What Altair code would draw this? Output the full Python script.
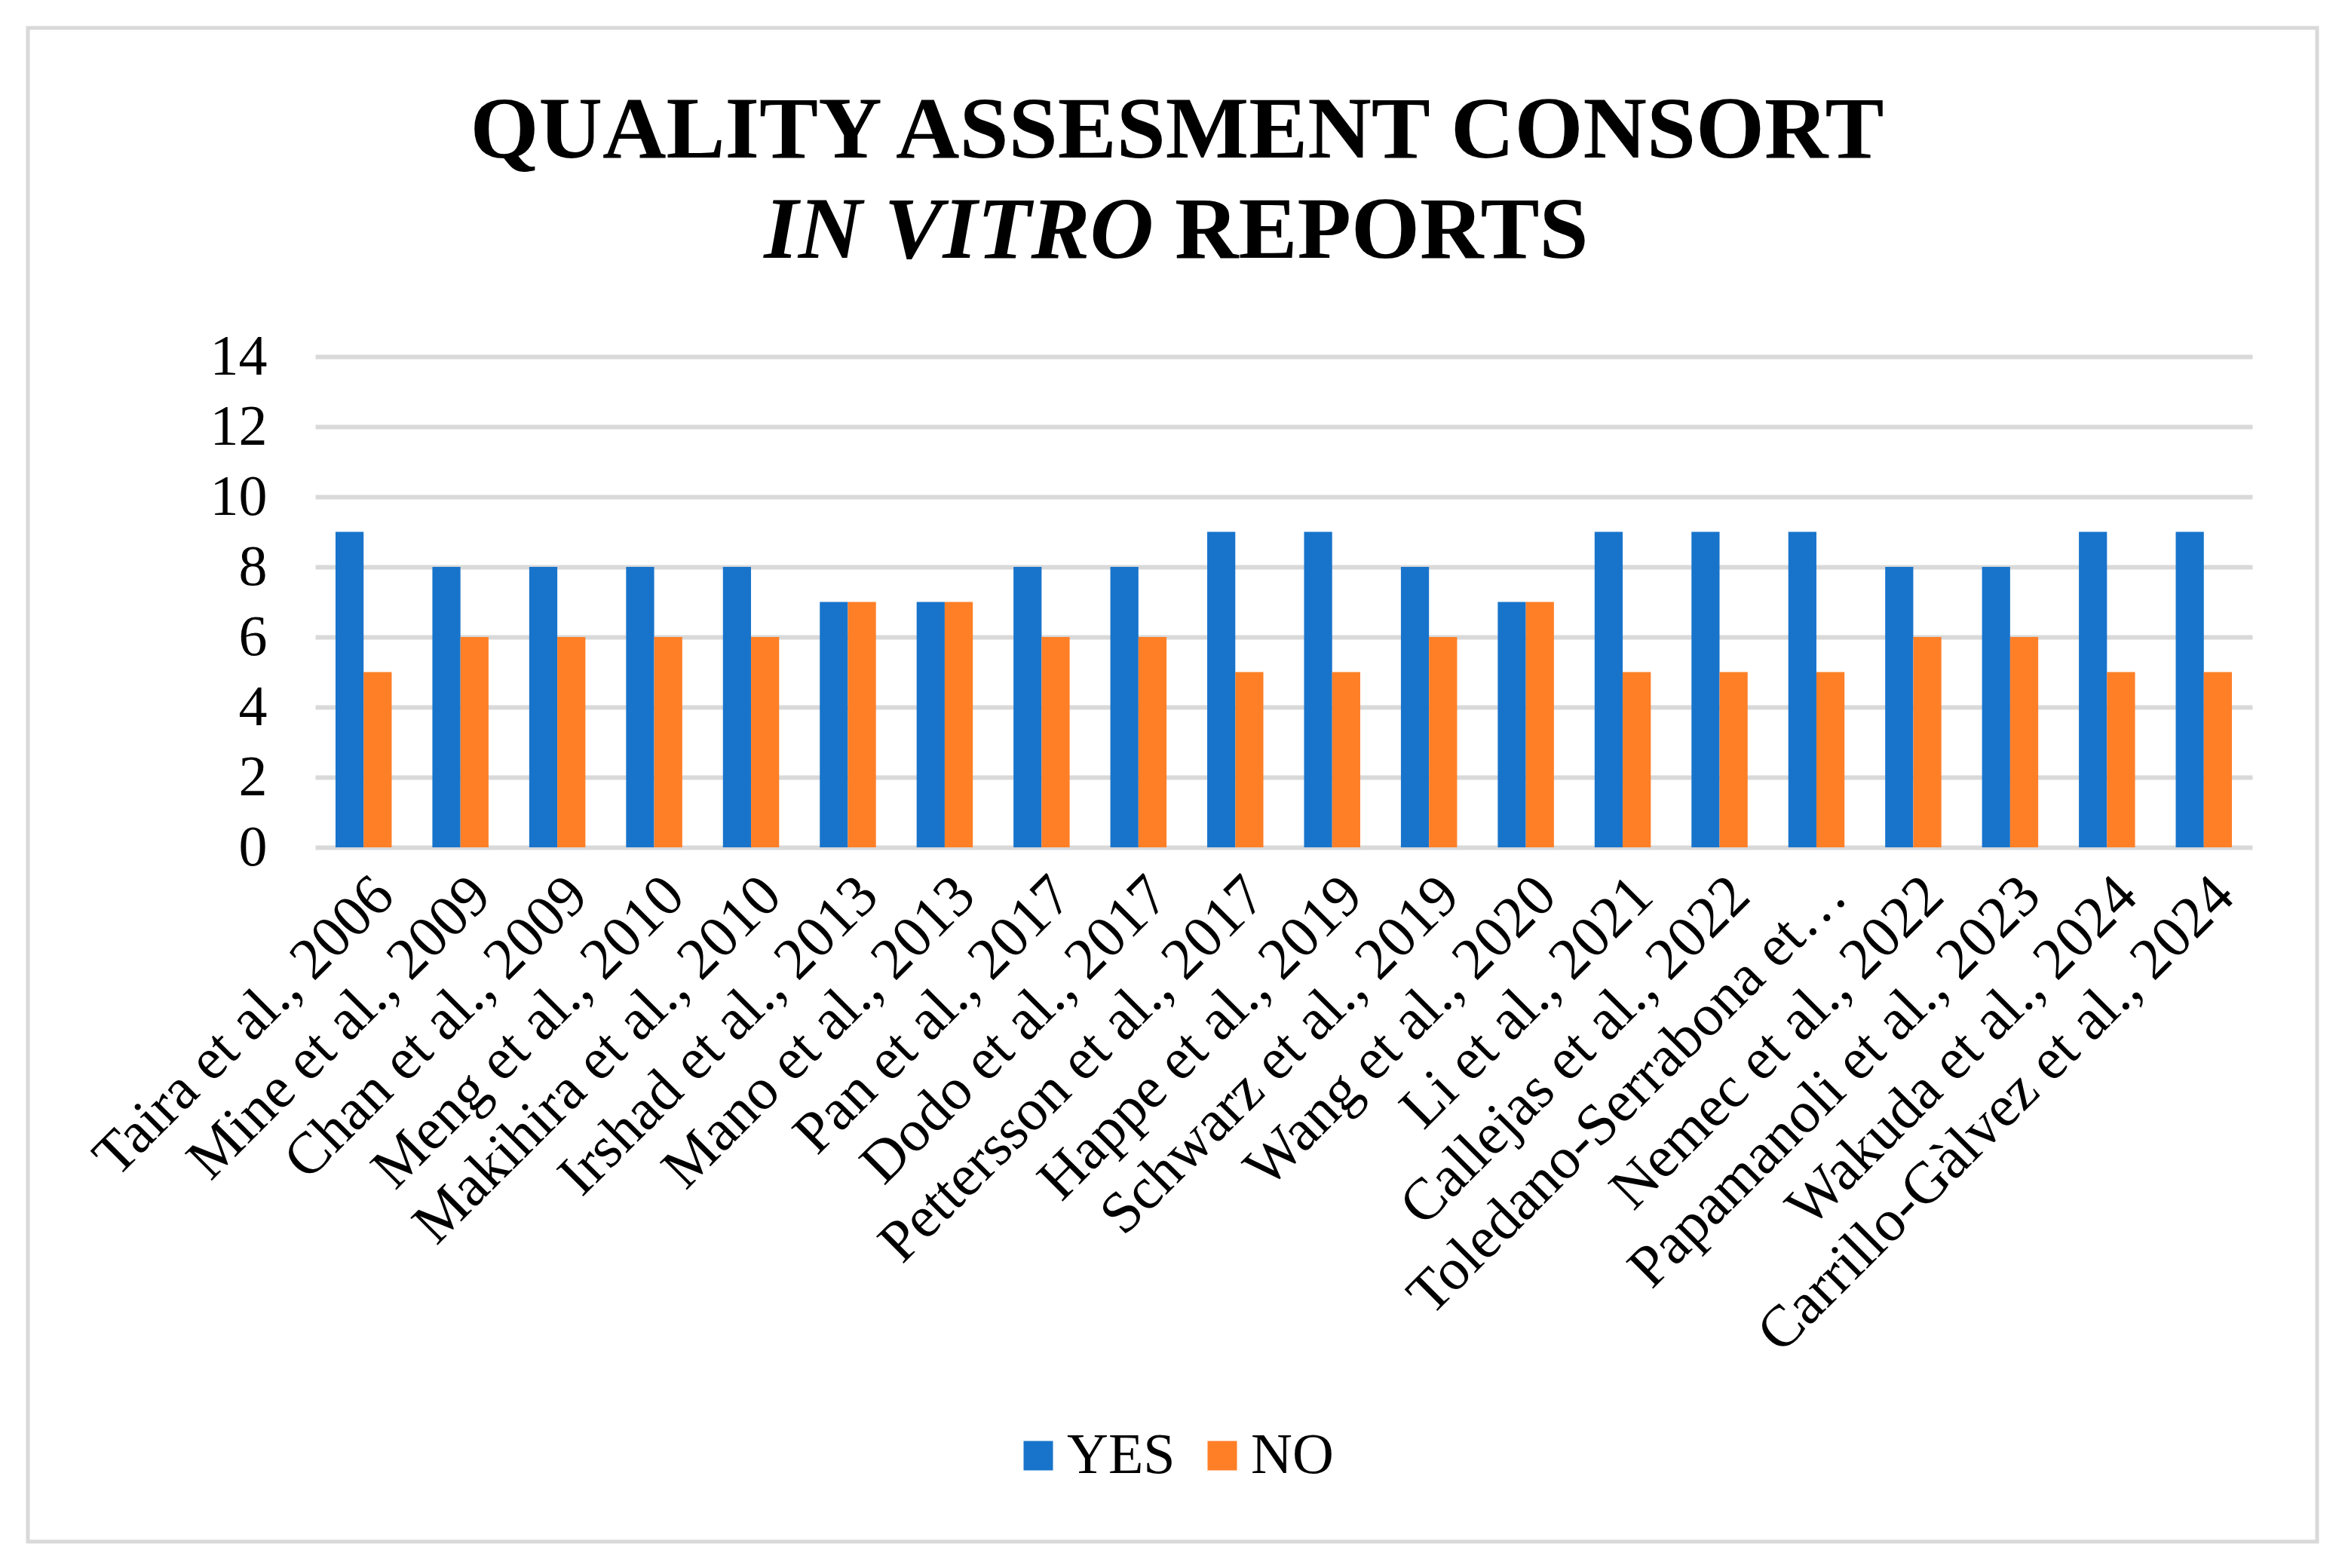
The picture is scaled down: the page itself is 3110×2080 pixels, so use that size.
import altair as alt
import pandas as pd

studies = [
    "Taira et al., 2006", "Mine et al., 2009", "Chan et al., 2009", "Meng et al., 2010",
    "Makihira et al., 2010", "Irshad et al., 2013", "Mano et al., 2013", "Pan et al., 2017",
    "Dodo et al., 2017", "Pettersson et al., 2017", "Happe et al., 2019", "Schwarz et al., 2019",
    "Wang et al., 2020", "Li et al., 2021", "Callejas et al., 2022", "Toledano-Serrabona et…",
    "Nemec et al., 2022", "Papamanoli et al., 2023", "Wakuda et al., 2024", "Carrillo-Gàlvez et al., 2024",
]
yes_vals = [9, 8, 8, 8, 8, 7, 7, 8, 8, 9, 9, 8, 7, 9, 9, 9, 8, 8, 9, 9]
no_vals = [5, 6, 6, 6, 6, 7, 7, 6, 6, 5, 5, 6, 7, 5, 5, 5, 6, 6, 5, 5]
series = ["YES", "NO"]
colors = ["#1874CB", "#FF7F27"]
y_ticks = [0, 2, 4, 6, 8, 10, 12, 14]

rows = []
for s, y, n in zip(studies, yes_vals, no_vals):
    rows.append({"study": s, "series": "YES", "value": y})
    rows.append({"study": s, "series": "NO", "value": n})
df = pd.DataFrame(rows)

FONT = "Liberation Serif"

bars = alt.Chart(df).mark_bar().encode(
    x=alt.X("study:N", sort=studies, title=None,
            scale=alt.Scale(paddingInner=0.42, paddingOuter=0.21),
            axis=alt.Axis(labelAngle=-45, labelFont=FONT, labelFontSize=78, labelColor="black",
                          labelLimit=2000, ticks=False, domain=False, labelPadding=24, grid=False)),
    xOffset=alt.XOffset("series:N", sort=series),
    y=alt.Y("value:Q", title=None, scale=alt.Scale(domain=[0, 14], nice=False),
            axis=alt.Axis(values=y_ticks, labelFont=FONT, labelFontSize=76, labelColor="black",
                          ticks=False, domain=False, labelPadding=64, grid=True,
                          gridColor="#d9d9d9", gridWidth=6)),
    color=alt.Color("series:N", sort=series,
                    scale=alt.Scale(domain=series, range=colors),
                    legend=alt.Legend(title=None, orient="none", legendX=921, legendY=1420,
                                      direction="horizontal", symbolType="square",
                                      symbolSize=1521, symbolStrokeWidth=0,
                                      labelFont=FONT, labelFontSize=76, labelColor="black",
                                      columnPadding=24, labelOffset=0)),
)

one = pd.DataFrame({"a": [0]})

border = alt.Chart(one).mark_rect(fillOpacity=0, stroke="#d9d9d9", strokeWidth=5).encode(
    x=alt.value(-381), x2=alt.value(2655), y=alt.value(-436), y2=alt.value(1572)
)

t1 = alt.Chart(one).mark_text(text="QUALITY ASSESMENT CONSORT", font=FONT, fontSize=117,
                              fontWeight="bold", align="center", baseline="alphabetic",
                              color="black").encode(x=alt.value(1143), y=alt.value(-264))
t2 = alt.Chart(one).mark_text(text="IN VITRO", font=FONT, fontSize=117, fontWeight="bold",
                              fontStyle="italic", align="right", baseline="alphabetic",
                              color="black").encode(x=alt.value(1112), y=alt.value(-131))
t3 = alt.Chart(one).mark_text(text="REPORTS", font=FONT, fontSize=117, fontWeight="bold",
                              align="left", baseline="alphabetic",
                              color="black").encode(x=alt.value(1140), y=alt.value(-131))

chart = alt.layer(border, bars, t1, t2, t3).properties(
    width=2569, height=651,
    padding={"left": 26, "top": 26, "right": 20, "bottom": 20},
    background="white",
).configure_view(stroke=None)

chart.save("out.html", embed_options={"renderer": "svg", "actions": False})
